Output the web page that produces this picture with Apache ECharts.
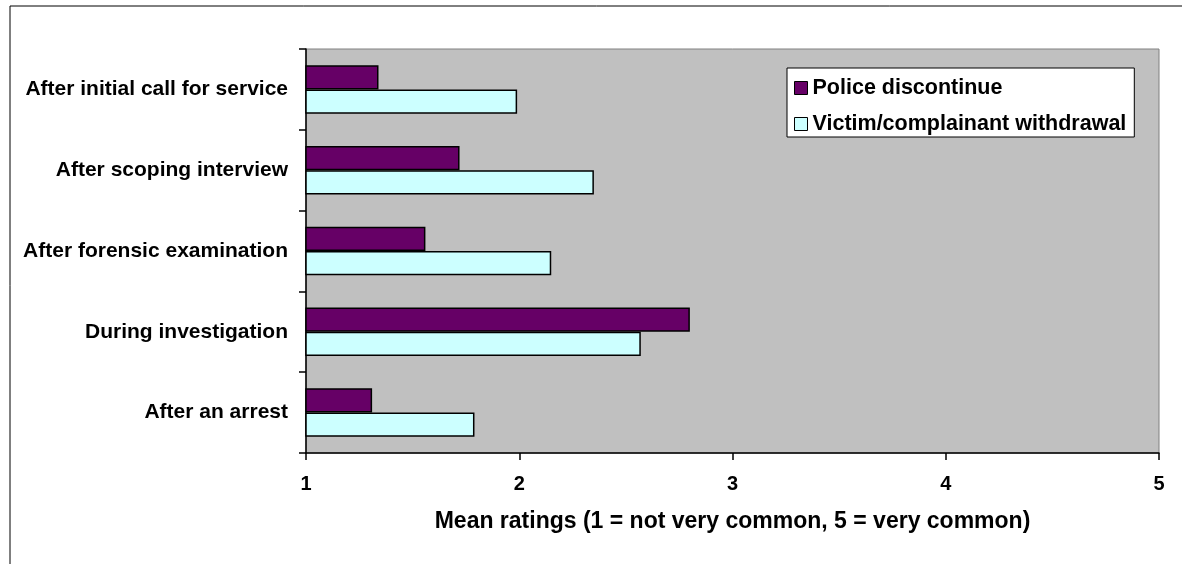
<!DOCTYPE html>
<html>
<head>
<meta charset="utf-8">
<script src="https://cdn.jsdelivr.net/npm/echarts@6/dist/echarts.min.js"></script>
<style>
html,body{margin:0;padding:0;background:#fff;}
#c{width:1182px;height:564px;}
</style>
</head>
<body>
<div id="c"></div>
<script>
const categories = ['After initial call for service', 'After scoping interview', 'After forensic examination', 'During investigation', 'After an arrest'];
const policeDiscontinue = [1.34, 1.72, 1.56, 2.80, 1.31];
const victimWithdrawal = [1.99, 2.35, 2.15, 2.57, 1.79];
const seriesNames = ['Police discontinue', 'Victim/complainant withdrawal'];
const xTicks = [1, 2, 3, 4, 5];
const axisTitle = 'Mean ratings (1 = not very common, 5 = very common)';

const FONT = '"Liberation Sans", Arial, sans-serif';
const chart = echarts.init(document.getElementById('c'), null, {renderer: 'canvas'});
chart.setOption({
  animation: false,
  backgroundColor: '#fff',
  graphic: [{
    type: 'rect', left: 7.5, top: 3.5, z: 100, silent: true,
    shape: {width: 1400, height: 800},
    style: {fill: 'none', stroke: '#000', lineWidth: 1}
  }],
  grid: {
    left: 306, right: 23, top: 49, bottom: 111,
    show: true, backgroundColor: '#C0C0C0', borderColor: '#808080', borderWidth: 1
  },
  legend: {
    orient: 'vertical', left: 787, top: 68,
    backgroundColor: '#fff', borderColor: '#000', borderWidth: 1,
    padding: [8, 8, 1, 7],
    itemWidth: 13, itemHeight: 13, itemGap: 12,
    icon: 'rect',
    itemStyle: {borderColor: '#000', borderWidth: 1},
    textStyle: {fontFamily: FONT, fontWeight: 'bold', fontSize: 21.5, color: '#000', lineHeight: 24},
    data: seriesNames
  },
  xAxis: {
    type: 'value', min: xTicks[0], max: xTicks[xTicks.length - 1], interval: 1,
    axisLine: {show: true, onZero: false, lineStyle: {color: '#000', width: 1.5}},
    axisTick: {show: true, length: 7, lineStyle: {color: '#000', width: 1.5}},
    splitLine: {show: false},
    axisLabel: {fontFamily: FONT, fontWeight: 'bold', fontSize: 20, color: '#000', margin: 21},
    name: axisTitle, nameLocation: 'middle', nameGap: 57,
    nameTextStyle: {fontFamily: FONT, fontWeight: 'bold', fontSize: 23, color: '#000'}
  },
  yAxis: {
    type: 'category', data: categories, inverse: true,
    axisLine: {show: true, lineStyle: {color: '#000', width: 1.5}},
    axisTick: {show: true, length: 7, lineStyle: {color: '#000', width: 1.5}},
    axisLabel: {fontFamily: FONT, fontWeight: 'bold', fontSize: 21, color: '#000', margin: 18}
  },
  series: [
    {
      name: seriesNames[0], type: 'bar', data: policeDiscontinue,
      barCategoryGap: '40%', barGap: '0%',
      itemStyle: {color: '#660066', borderColor: '#000', borderWidth: 1.5}
    },
    {
      name: seriesNames[1], type: 'bar', data: victimWithdrawal,
      barCategoryGap: '40%', barGap: '0%',
      itemStyle: {color: '#CCFFFF', borderColor: '#000', borderWidth: 1.5}
    }
  ]
});
</script>
</body>
</html>
